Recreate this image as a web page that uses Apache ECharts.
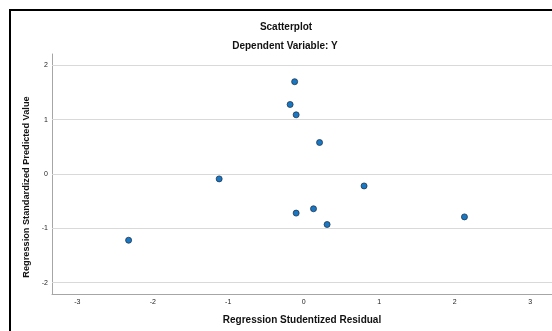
<!DOCTYPE html>
<html>
<head>
<meta charset="utf-8">
<script src="https://cdn.jsdelivr.net/npm/echarts@6/dist/echarts.min.js"></script>
<style>html,body{margin:0;padding:0;background:#fff}#c{width:552px;height:331px}</style>
</head>
<body>
<div id="c"></div>
<script>
const residuals = [-0.12, -0.18, -0.10, 0.21, -1.12, 0.80, 0.13, -0.10, 0.31, -2.32, 2.13];
const predicted = [1.70, 1.28, 1.09, 0.58, -0.09, -0.22, -0.64, -0.72, -0.93, -1.22, -0.79];
const xTicks = [-3, -2, -1, 0, 1, 2, 3];
const yTicks = [-2, -1, 0, 1, 2];
const titleText = 'Scatterplot';
const subtitleText = 'Dependent Variable: Y';
const xName = 'Regression Studentized Residual';
const yName = 'Regression Standardized Predicted Value';

const font = '"Liberation Sans", Arial, sans-serif';
const points = residuals.map((x, i) => [x, predicted[i]]);

const chart = echarts.init(document.getElementById('c'), null, {renderer: 'canvas'});
chart.setOption({
  animation: false,
  backgroundColor: '#fff',
  grid: {left: 52, top: 54, right: 0, bottom: 37, containLabel: false},
  xAxis: {
    type: 'value', min: -3.335, max: 3.29,
    name: xName, nameLocation: 'middle', nameGap: 21,
    nameTextStyle: {fontFamily: font, fontSize: 10, fontWeight: 'bold', color: '#111'},
    axisLine: {show: true, onZero: false, lineStyle: {color: '#a6a6a6', width: 1}},
    axisTick: {show: false},
    splitLine: {show: false},
    axisLabel: {customValues: xTicks, fontFamily: font, fontSize: 7, color: '#222', margin: 5}
  },
  yAxis: {
    type: 'value', min: -2.21, max: 2.21,
    name: yName, nameLocation: 'middle', nameGap: 12,
    nameTextStyle: {fontFamily: font, fontSize: 9.2, fontWeight: 'bold', color: '#111', padding: [0, 26, 0, 0]},
    axisLine: {show: true, onZero: false, lineStyle: {color: '#a6a6a6', width: 1}},
    axisTick: {show: false},
    splitLine: {show: false},
    axisLabel: {customValues: yTicks, fontFamily: font, fontSize: 7, color: '#222', margin: 4}
  },
  graphic: [
    {type: 'rect', shape: {x: 10, y: 10, width: 700, height: 500}, style: {fill: 'none', stroke: '#000', lineWidth: 2}, silent: true},
    {type: 'text', x: 286, y: 27, style: {text: titleText, font: 'bold 10px ' + font, fill: '#111', align: 'center', verticalAlign: 'middle'}},
    {type: 'text', x: 285, y: 46, style: {text: subtitleText, font: 'bold 10px ' + font, fill: '#111', align: 'center', verticalAlign: 'middle'}}
  ],
  series: [{
    type: 'scatter',
    data: points,
    symbolSize: 6,
    itemStyle: {color: '#1a78c2', borderColor: '#1f3550', borderWidth: 0.8, opacity: 1},
    markLine: {
      silent: true, symbol: 'none', animation: false,
      label: {show: false},
      lineStyle: {color: '#d9d9d9', type: 'solid', width: 1},
      data: yTicks.map(v => ({yAxis: v}))
    },
    z: 3
  }]
});
</script>
</body>
</html>
